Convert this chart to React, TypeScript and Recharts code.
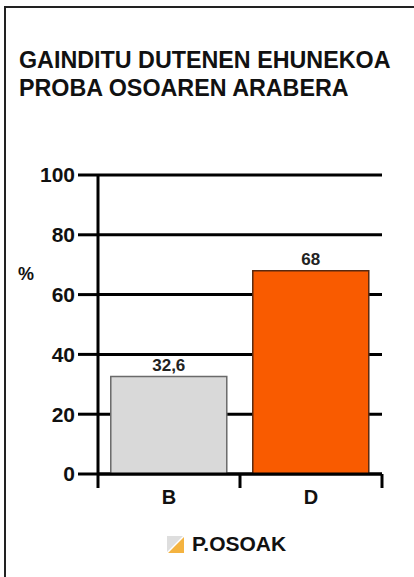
import React from 'react';
import { BarChart, Bar, XAxis, YAxis, CartesianGrid, Cell, LabelList } from 'recharts';

const titleLines = ['GAINDITU DUTENEN EHUNEKOA', 'PROBA OSOAREN ARABERA'];
const categories = ['B', 'D'];
const values = [32.6, 68];
const valueLabels = ['32,6', '68'];
const barFills = ['#d9d9d9', '#f95b00'];
const barStrokes = ['#6a6a6a', '#5a2a10'];
const yTicks = [0, 20, 40, 60, 80, 100];
const yUnit = '%';
const seriesName = 'P.OSOAK';

const data = categories.map((c, i) => ({ cat: c, value: values[i], label: valueLabels[i] }));

const FONT = '"Liberation Sans", Arial, sans-serif';

const PercentLabel = (props: any) => {
  const vb = props.viewBox || {};
  return (
    <text x={(vb.x || 0) + 26} y={(vb.y || 0) + 105} textAnchor="middle" fontSize={18} fontWeight="bold" fontFamily={FONT} fill="#111">
      {yUnit}
    </text>
  );
};

const CatTick = (props: any) => {
  const { x, y, payload, index, visibleTicksCount, width } = props;
  const count = visibleTicksCount || categories.length;
  const half = (Number(width) || 284) / count / 2;
  return (
    <g>
      <line x1={x - half} y1={y} x2={x - half} y2={y + 14} stroke="#000" strokeWidth={3} />
      {index === count - 1 && <line x1={x + half} y1={y} x2={x + half} y2={y + 14} stroke="#000" strokeWidth={3} />}
      <text x={x} y={y + 30} textAnchor="middle" fontSize={20} fontWeight="bold" fontFamily={FONT} fill="#111">
        {payload.value}
      </text>
    </g>
  );
};

export default function App() {
  return (
    <div style={{ position: 'absolute', left: 0, top: 0, width: 414, height: 577, background: '#fff', overflow: 'hidden' }}>
      <div style={{ position: 'absolute', left: 4, top: 6, width: 420, height: 580, borderTop: '2px solid #222', borderLeft: '2px solid #222' }} />
      <div style={{ position: 'absolute', left: 19, top: 46, fontFamily: FONT, fontWeight: 'bold', fontSize: 23.3, lineHeight: '28px', color: '#111', whiteSpace: 'nowrap' }}>
        {titleLines.map((t) => (
          <div key={t}>{t}</div>
        ))}
      </div>
      <div style={{ position: 'absolute', left: 0, top: 0 }}>
        <BarChart width={414} height={577} data={data} margin={{ top: 175, right: 32, left: 0, bottom: 73 }} barCategoryGap="9%">
          <CartesianGrid horizontal vertical={false} stroke="#000" strokeWidth={3} />
          <XAxis dataKey="cat" height={30} tickLine={false} tickSize={0} tickMargin={0} axisLine={{ stroke: '#000', strokeWidth: 3 }} tick={<CatTick />} />
          <YAxis width={98} domain={[0, 100]} ticks={yTicks} tickSize={20} tickMargin={3} tickLine={{ stroke: '#000', strokeWidth: 3 }} axisLine={{ stroke: '#000', strokeWidth: 3 }} tick={{ fill: '#111', fontSize: 21, fontWeight: 'bold', fontFamily: FONT }} label={<PercentLabel />} />
          <YAxis yAxisId="r" orientation="right" width={0} domain={[0, 100]} ticks={yTicks} tick={false} tickLine={false} axisLine={{ stroke: '#000', strokeWidth: 3 }} />
          <Bar dataKey="value" isAnimationActive={false}>
            {data.map((d, i) => (
              <Cell key={d.cat} fill={barFills[i]} stroke={barStrokes[i]} strokeWidth={1.5} />
            ))}
            <LabelList dataKey="label" position="top" offset={6} fill="#222" fontSize={17} fontWeight="bold" fontFamily={FONT} />
          </Bar>
        </BarChart>
      </div>
      <div style={{ position: 'absolute', left: 167, top: 534, display: 'flex', alignItems: 'center' }}>
        <svg width={17} height={17} style={{ display: 'block' }}>
          <polygon points="0,0 17,0 0,17" fill="#dedede" />
          <polygon points="17,0 17,17 0,17" fill="#f4b340" />
          <line x1={0} y1={17} x2={17} y2={0} stroke="#fff" strokeWidth={1.5} />
        </svg>
        <span style={{ marginLeft: 8, fontFamily: FONT, fontWeight: 'bold', fontSize: 21, color: '#111', lineHeight: '20px' }}>{seriesName}</span>
      </div>
    </div>
  );
}
